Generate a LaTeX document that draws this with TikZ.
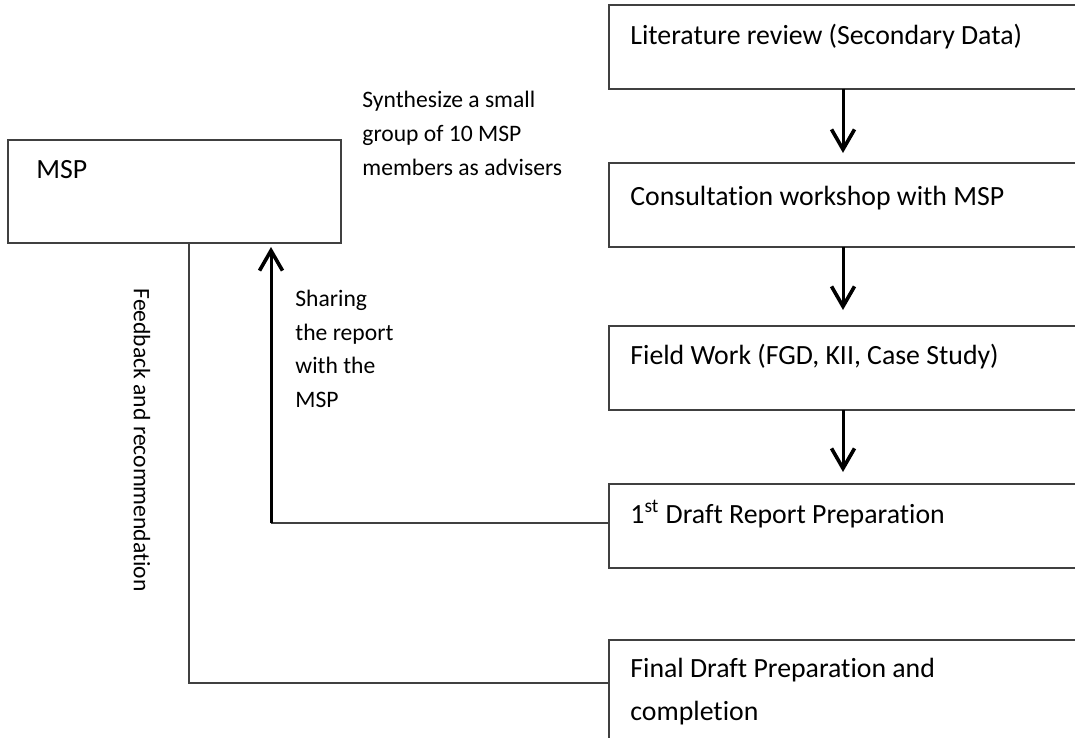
\documentclass[tikz,border=0pt]{standalone}
\usepackage{fontspec}
\setmainfont{Carlito}[Ligatures=NoCommon]
\usetikzlibrary{arrows.meta,calc}
\definecolor{boxgray}{HTML}{404040}
\begin{document}
\begin{tikzpicture}[x=0.5pt,y=-0.5pt,
  box/.style={draw=boxgray, line width=1pt, minimum width=240pt, minimum height=42pt, anchor=north west, inner sep=0pt, outer sep=0pt},
  btxt/.style={font=\fontsize{13.9}{21.5}\selectfont, anchor=base west, inner sep=0pt, align=left},
  lbl/.style={font=\fontsize{11.8}{16.75}\selectfont, anchor=base west, inner sep=0pt, align=left},
  conn/.style={draw=boxgray, line width=1pt},
  arr/.style={draw=black, line width=1.5pt, -{Straight Barb[length=10pt,width=11.5pt,line width=1.8pt]}}]
\useasboundingbox (0,0) rectangle (1075,738);
\clip (0,0) rectangle (1075,738);
% right column boxes
\node[box] (b1) at (609,5) {};
\node[box] (b2) at (609,163) {};
\node[box] (b3) at (609,326) {};
\node[box] (b4) at (609,484) {};
\node[box, minimum height=60pt] (b5) at (609,640) {};
% MSP box
\node[box, minimum width=166.5pt, minimum height=51.5pt] (msp) at (8,140) {};
% texts in boxes (base anchor = baseline of last line)
\node[btxt] (t1) at ($(b1.north west)+(21,40)$) {Literature review (Secondary Data)};
\node[btxt] (t2) at ($(b2.north west)+(21,42)$) {Consultation workshop with MSP};
\node[btxt] (t3) at ($(b3.north west)+(21,38)$) {Field Work (FGD, KII, Case Study)};
\node[btxt] (t4) at ($(b4.north west)+(21,39)$) {1\textsuperscript{st} Draft Report Preparation};
\node[btxt] (t5) at ($(b5.north west)+(21,80)$) {Final Draft Preparation and\\completion};
\node[btxt] (tm) at ($(msp.north west)+(28,38)$) {MSP};
% labels
\node[lbl] (l1) at (362,175) {Synthesize a small\\group of 10 MSP\\members as advisers};
\node[lbl] (l2) at (295,407) {Sharing\\the report\\with the\\MSP};
\node[font=\fontsize{11.8}{14}\selectfont, rotate=-90, inner sep=0pt] (l3) at (142,440) {Feedback and recommendation};
% downward arrows
\coordinate (a1) at (843,153);
\coordinate (a2) at (843,310);
\coordinate (a3) at (843,472);
\draw[arr] (b1.south -| a1) -- (a1);
\draw[arr] (b2.south -| a2) -- (a2);
\draw[arr] (b3.south -| a3) -- (a3);
% sharing connector
\coordinate (sc) at (271,523);
\coordinate (st) at (271,247);
\draw[conn] (b4.west |- sc) -- (sc);
\draw[arr] (sc) -- (st);
% feedback connector
\coordinate (fc) at (189,683);
\draw[conn] (fc |- msp.south) -- (fc) -- (fc -| b5.west);
\end{tikzpicture}
\end{document}
